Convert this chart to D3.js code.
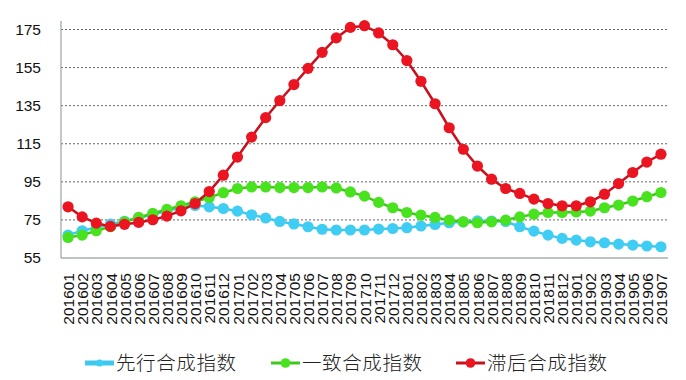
<!DOCTYPE html>
<html><head><meta charset="utf-8">
<script src="https://cdn.jsdelivr.net/npm/d3@7/dist/d3.min.js"></script>
<style>
html,body{margin:0;padding:0;background:#fff;}
svg{display:block;}
</style></head>
<body>
<svg id="chart" width="686" height="380"></svg>
<script>
const categories = ["201601","201602","201603","201604","201605","201606","201607","201608","201609","201610","201611","201612",
"201701","201702","201703","201704","201705","201706","201707","201708","201709","201710","201711","201712",
"201801","201802","201803","201804","201805","201806","201807","201808","201809","201810","201811","201812",
"201901","201902","201903","201904","201905","201906","201907"];
const leading = [67.0,69.3,71.0,72.8,74.3,76.0,77.8,79.6,81.5,82.6,81.9,81.0,79.6,77.7,76.0,74.2,72.9,71.4,70.1,69.7,69.7,69.7,70.2,70.5,70.9,71.8,72.6,73.5,74.0,74.5,74.4,74.2,71.4,69.1,67.0,65.3,64.4,63.5,63.0,62.3,61.8,61.3,60.9];
const coincident = [65.8,67.0,69.3,71.4,74.0,76.3,78.4,80.5,82.4,84.5,86.8,89.3,91.5,92.3,92.3,92.0,92.0,92.0,92.3,91.8,89.7,87.5,84.2,81.4,78.9,77.5,76.3,74.9,74.0,73.5,74.0,74.9,76.6,78.0,78.9,78.9,79.2,79.6,81.4,82.8,84.9,87.2,89.4];
const lagging = [81.9,76.6,73.3,71.6,72.7,73.7,75.1,77.0,79.8,83.6,89.9,98.5,108.0,118.5,128.7,137.7,146.1,154.6,163.0,170.6,176.1,177.0,173.2,167.0,158.7,147.8,136.0,123.4,112.1,103.3,96.4,91.5,88.9,85.9,83.6,82.4,82.4,84.5,88.5,94.1,99.9,105.4,109.5];
const yTicks = [55,75,95,115,135,155,175];
const seriesNames = ["先行合成指数","一致合成指数","滞后合成指数"];

const series = [
  {name: seriesNames[0], values: leading, line: "#3ec8ee", fill: "#40cdf3"},
  {name: seriesNames[1], values: coincident, line: "#3fc81c", fill: "#48e21e"},
  {name: seriesNames[2], values: lagging, line: "#c8101e", fill: "#ea1520"}
];

const svg = d3.select("#chart");
const mLeft = 61, mRight = 668, mTop = 29.5, mBottom = 258;

const x = d3.scalePoint().domain(categories).range([mLeft, mRight]).padding(0.5);
const y = d3.scaleLinear().domain([55, 175]).range([mBottom, mTop]);

// gridlines
svg.append("g").selectAll("line").data(yTicks.filter(d => d !== 55)).join("line")
  .attr("x1", mLeft).attr("x2", mRight)
  .attr("y1", d => y(d)).attr("y2", d => y(d))
  .attr("stroke", "#666").attr("stroke-width", 1)
  .attr("stroke-dasharray", "2,2");

// y axis
const yAxis = svg.append("g").attr("transform", `translate(${mLeft},0)`)
  .call(d3.axisLeft(y).tickValues(yTicks).tickSize(0).tickPadding(20));
yAxis.select(".domain").remove();
yAxis.selectAll("text").attr("font-family", "Liberation Sans, Arial, sans-serif")
  .attr("font-size", 15.5).attr("fill", "#111");
svg.append("line").attr("x1", mLeft).attr("x2", mLeft).attr("y1", 21).attr("y2", mBottom)
  .attr("stroke", "#9aa3a3").attr("stroke-width", 1.2);

// x axis
const xAxis = svg.append("g").attr("transform", `translate(0,${mBottom})`)
  .call(d3.axisBottom(x).tickSize(0).tickPadding(0));
xAxis.select(".domain").remove();
xAxis.selectAll("text")
  .attr("font-family", "Liberation Sans, Arial, sans-serif")
  .attr("font-size", 15.5).attr("fill", "#111")
  .attr("text-anchor", "end")
  .attr("transform", "translate(0,15) rotate(-90)")
  .attr("x", 0).attr("y", 0).attr("dy", "0.36em");
svg.append("line").attr("x1", mLeft).attr("x2", mRight).attr("y1", mBottom).attr("y2", mBottom)
  .attr("stroke", "#7f8a8a").attr("stroke-width", 1.2);

// series
const lineGen = d3.line().x((d, i) => x(categories[i])).y(d => y(d));
series.forEach(s => {
  const g = svg.append("g");
  g.append("path").datum(s.values).attr("d", lineGen)
    .attr("fill", "none").attr("stroke", s.line).attr("stroke-width", 2.5);
  g.selectAll("circle").data(s.values).join("circle")
    .attr("cx", (d, i) => x(categories[i])).attr("cy", d => y(d))
    .attr("r", 5.6).attr("fill", s.fill);
});

// legend
const legendPos = [85, 271, 456];
const lg = svg.append("g");
series.forEach((s, i) => {
  const lx = legendPos[i], ly = 363;
  lg.append("line").attr("x1", lx).attr("x2", lx + 29).attr("y1", ly).attr("y2", ly)
    .attr("stroke", s.line).attr("stroke-width", i === 0 ? 5 : 3);
  lg.append("circle").attr("cx", lx + 14.5).attr("cy", ly).attr("r", i === 0 ? 3.5 : 4.8).attr("fill", s.fill);
  lg.append("text").attr("x", lx + 31).attr("y", ly).attr("dy", "0.36em")
    .attr("font-family", "Noto Sans CJK SC, sans-serif").attr("font-weight", 300)
    .attr("font-size", 19.5).attr("letter-spacing", 0.6).attr("fill", "#222")
    .text(s.name);
});
</script>
</body></html>
